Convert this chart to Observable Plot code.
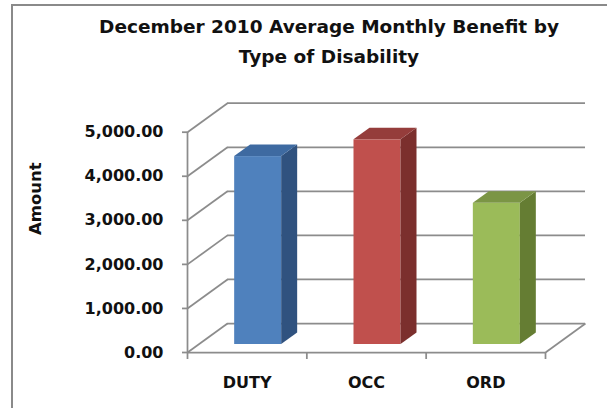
<!DOCTYPE html>
<html>
<head>
<meta charset="utf-8">
<script src="https://cdn.jsdelivr.net/npm/d3@7"></script>
<script src="https://cdn.jsdelivr.net/npm/@observablehq/plot@0.6"></script>
<style>
  html, body { margin: 0; padding: 0; background: #fff; }
  #wrap { position: relative; width: 607px; height: 408px; overflow: hidden; background: #fff; }
  #border { position: absolute; left: 11px; top: 4px; width: 700px; height: 500px; border: 2px solid #8a8a8a; box-sizing: border-box; }
  #title { position: absolute; top: 11.5px; left: 0; width: 658px; text-align: center;
           font-family: "DejaVu Sans", sans-serif; font-weight: bold; font-size: 18.5px; line-height: 30px; color: #111; }
  #chart { position: absolute; left: 0; top: 90px; }
</style>
</head>
<body>
<div id="wrap">
  <div id="border"></div>
  <div id="title">December 2010 Average Monthly Benefit by<br>Type of Disability</div>
  <div id="chart"></div>
</div>
<script>
// ---- data ----
const categories = ["DUTY", "OCC", "ORD"];
const values = [4265, 4645, 3205];
const yTicks = [0, 1000, 2000, 3000, 4000, 5000];
const yAxisLabel = "Amount";

// ---- styles ----
const frontColors = ["#4F81BD", "#C0504D", "#9BBB59"];
const topColors = ["#3E6AA1", "#953D3B", "#7B9545"];
const sideColors = ["#30527F", "#7B2F2D", "#657D33"];
const gridColor = "#8c8c8c";
const gridWidth = 1.75;
const textColor = "#111";

// ---- geometry (pixels) ----
const W = 607, H = 318;
const mLeft = 187, mRight = 62, mTop = 41.7, mBottom = 56;
const xDomain = [0, categories.length];
const yDomain = [0, d3.max(yTicks)];
const pxPerX = (W - mLeft - mRight) / (xDomain[1] - xDomain[0]);
const pxPerY = (H - mTop - mBottom) / (yDomain[1] - yDomain[0]);
const wallDX = 40, wallDY = 29;       // depth of the back wall
const barOffX = 11, barOffY = 8;      // bar front face placement in depth
const barW = 47;                      // bar width
const barDX = 16, barDY = 11.5;       // bar depth

const wdx = wallDX / pxPerX, wdy = wallDY / pxPerY;
const bw = barW / pxPerX, bdx = barDX / pxPerX, bdy = barDY / pxPerY;

const bars = categories.map((c, i) => ({
  cat: c, i, v: values[i],
  left: i + 0.5 - bw / 2, right: i + 0.5 + bw / 2,
  front: frontColors[i], top: topColors[i], side: sideColors[i]
}));
const sidePts = bars.flatMap(b => [
  {cat: b.cat, x: b.right, y1: 0, y2: b.v, fill: b.side},
  {cat: b.cat, x: b.right + bdx, y1: bdy, y2: b.v + bdy, fill: b.side}
]);
const topPts = bars.flatMap(b => [
  {cat: b.cat, y: b.v, x1: b.left, x2: b.right, fill: b.top},
  {cat: b.cat, y: b.v + bdy, x1: b.left + bdx, x2: b.right + bdx, fill: b.top}
]);
const xTickPos = d3.range(categories.length + 1);
const fmt = d3.format(",.2f");

const chart = Plot.plot({
  width: W, height: H,
  marginLeft: mLeft, marginRight: mRight, marginTop: mTop, marginBottom: mBottom,
  x: {type: "linear", domain: xDomain},
  y: {type: "linear", domain: yDomain},
  color: {type: "identity"},
  style: {fontFamily: "DejaVu Sans, sans-serif", fontSize: "16px", fontWeight: "bold", color: textColor, background: "transparent", overflow: "visible"},
  marks: [
    // back wall gridlines
    Plot.ruleY(yTicks, {y: d => d, dx: wallDX, dy: -wallDY, stroke: gridColor, strokeWidth: gridWidth}),
    // left wall diagonals
    Plot.link(yTicks, {x1: () => xDomain[0], y1: d => d, x2: () => xDomain[0] + wdx, y2: d => d + wdy, stroke: gridColor, strokeWidth: gridWidth}),
    // floor right edge
    Plot.link([xDomain[1]], {x1: d => d, y1: () => 0, x2: d => d + wdx, y2: () => wdy, stroke: gridColor, strokeWidth: gridWidth}),
    // front axis lines
    Plot.ruleX([xDomain[0]], {x: d => d, y1: () => yDomain[0], y2: () => yDomain[1], stroke: gridColor, strokeWidth: gridWidth}),
    Plot.ruleY([0], {y: d => d, stroke: gridColor, strokeWidth: gridWidth}),
    // bars: front faces
    Plot.rect(bars, {x1: "left", x2: "right", y1: () => 0, y2: "v", fill: "front", dx: barOffX, dy: -barOffY}),
    // bars: side faces
    Plot.areaY(sidePts, {x: "x", y1: "y1", y2: "y2", z: "cat", fill: "fill", dx: barOffX, dy: -barOffY}),
    // bars: top faces
    Plot.areaX(topPts, {y: "y", x1: "x1", x2: "x2", z: "cat", fill: "fill", dx: barOffX, dy: -barOffY}),
    // axes
    Plot.axisY({ticks: yTicks, tickSize: 5, tickPadding: 19, tickFormat: fmt, stroke: gridColor, strokeWidth: gridWidth, fill: textColor, fontSize: 16, fontWeight: "bold", label: null}),
    Plot.axisX({ticks: xTickPos, tickSize: 7, tickFormat: () => "", stroke: gridColor, strokeWidth: gridWidth, label: null}),
    Plot.text(categories, {x: (d, i) => i + 0.5, y: () => 0, dy: 30, text: d => d, fontSize: 16, fontWeight: "bold", fill: textColor}),
    Plot.text([yAxisLabel], {frameAnchor: "left", dx: 35 - mLeft, dy: -7.3, rotate: -90, text: d => d, fontSize: 16.5, fontWeight: "bold", fill: textColor})
  ]
});
document.getElementById("chart").appendChild(chart);
</script>
</body>
</html>
